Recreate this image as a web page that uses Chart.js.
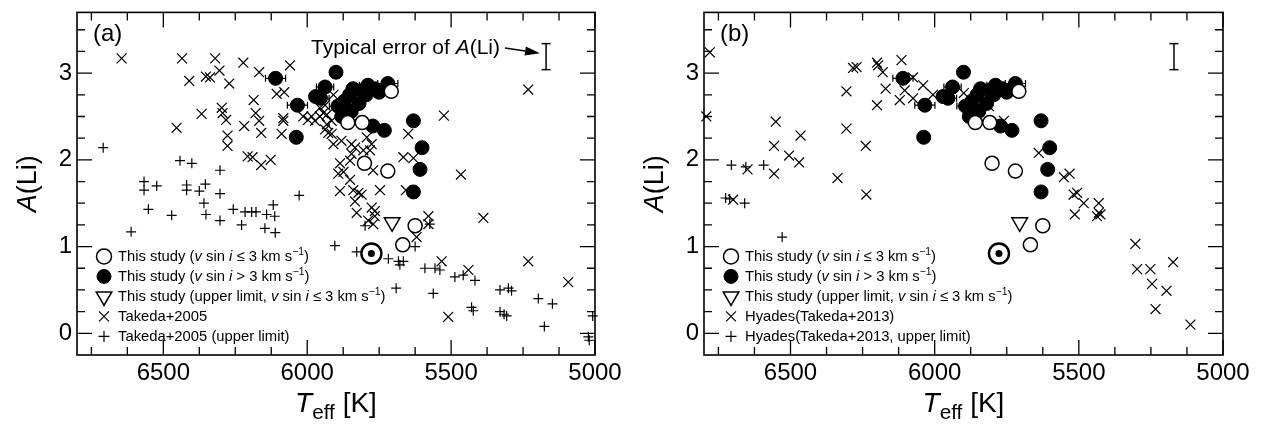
<!DOCTYPE html>
<html>
<head>
<meta charset="utf-8">
<title>A(Li) vs Teff</title>
<script src="https://cdn.jsdelivr.net/npm/chart.js@4.4.1/dist/chart.umd.min.js"></script>
<style>
  html, body { margin: 0; padding: 0; background: #fff; }
  .row { display: flex; width: 1264px; height: 425px; }
  .panel { width: 632px; height: 425px; }
  canvas { display: block; }
</style>
</head>
<body>
<div class="row">
  <div class="panel"><canvas id="panelA" width="632" height="425"></canvas></div>
  <div class="panel"><canvas id="panelB" width="632" height="425"></canvas></div>
</div>
<script>
// ---- axes ----
const xTicks = [6500, 6000, 5500, 5000];
const xMinor = [6750, 6625, 6375, 6250, 6125, 5875, 5750, 5625, 5375, 5250, 5125];
const yTicks = [0, 1, 2, 3];
const yMinor = [0.25, 0.5, 0.75, 1.25, 1.5, 1.75, 2.25, 2.5, 2.75, 3.25, 3.5];

// ---- this study (same in both panels), [Teff, A(Li)] ----
const studyFilled = [
  [6110, 2.94], [6034, 2.63], [6038, 2.26], [5971, 2.73], [5954, 2.71], [5938, 2.84],
  [5900, 3.01], [5893, 2.62], [5880, 2.50], [5870, 2.68], [5853, 2.75], [5847, 2.56],
  [5841, 2.82], [5820, 2.65], [5810, 2.80], [5795, 2.75], [5789, 2.86], [5766, 2.82],
  [5750, 2.78], [5720, 2.88], [5772, 2.39], [5732, 2.34], [5631, 2.45], [5601, 2.14],
  [5608, 1.89], [5631, 1.63]
];
const studyFilledErrT = [35, 35, 0, 0, 30, 30, 0, 30, 0, 0, 0, 0, 0, 0, 0, 0, 30, 0, 0, 35, 0, 0, 0, 0, 0, 0];
const studyOpen = [[5708, 2.79], [5859, 2.43], [5809, 2.43], [5801, 1.96], [5720, 1.87], [5625, 1.24], [5668, 1.02]];
const studyUpper = [[5705, 1.28]];
const sun = [[5777, 0.92]];
const typicalError = [[5170, 3.04], [5170, 3.34]];

// ---- panel (a): Takeda+2005 ----
const takeda2005 = [
  [6645, 3.17], [6435, 3.17], [6410, 2.91], [6320, 3.17], [6352, 2.96], [6338, 2.95], [6305, 3.03],
  [6271, 2.88], [6222, 3.12], [6167, 3.01], [6060, 3.09], [6367, 2.53], [6454, 2.37], [6297, 2.60],
  [6294, 2.54], [6282, 2.46], [6277, 2.28], [6277, 2.16], [6219, 2.39], [6186, 2.69], [6179, 2.54],
  [6167, 2.45], [6160, 2.31], [6207, 2.04], [6190, 2.03], [6160, 1.94], [6127, 2.00], [6106, 2.76],
  [6080, 2.78], [6083, 2.48], [6083, 2.45], [6089, 2.30], [6014, 2.50], [5997, 2.46], [5985, 2.50],
  [5973, 2.45], [5956, 2.50], [5944, 2.54], [5932, 2.41], [5927, 2.31], [5956, 2.60], [5909, 2.75],
  [5938, 2.63], [5932, 2.52], [5915, 2.45], [5938, 2.35], [5915, 2.30], [5909, 2.18], [5881, 2.22],
  [5846, 2.18], [5834, 2.14], [5793, 2.26], [5776, 2.18], [5805, 2.11], [5782, 2.11], [5886, 1.96],
  [5892, 1.84], [5874, 1.86], [5851, 1.99], [5846, 2.07], [5771, 1.88], [5851, 1.77], [5840, 1.65],
  [5886, 1.64], [5822, 1.62], [5811, 1.60], [5834, 1.52], [5828, 1.39], [5776, 1.45], [5765, 1.41],
  [5765, 1.35], [5788, 1.30], [5771, 1.26], [5747, 1.65], [5666, 2.03], [5631, 2.02], [5649, 2.30],
  [5657, 1.65], [5579, 1.35], [5579, 1.26], [5620, 1.11], [5525, 2.51], [5466, 1.83], [5388, 1.33],
  [5232, 2.81], [5533, 0.83], [5440, 0.73], [5232, 0.83], [5510, 0.19], [5093, 0.59]
];
const takeda2005Upper = [
  [6709, 2.14], [6442, 1.99], [6401, 1.96], [6303, 1.88], [6567, 1.75], [6567, 1.65], [6523, 1.70],
  [6419, 1.71], [6419, 1.65], [6375, 1.64], [6354, 1.72], [6303, 1.61], [6028, 1.59], [6552, 1.43],
  [6471, 1.36], [6359, 1.50], [6352, 1.37], [6303, 1.30], [6257, 1.43], [6216, 1.40], [6193, 1.40],
  [6178, 1.40], [6141, 1.37], [6118, 1.48], [6113, 1.35], [6147, 1.21], [6111, 1.16], [6612, 1.17],
  [6228, 1.25], [5904, 1.01], [5828, 0.94], [5718, 0.86], [5683, 0.83], [5678, 0.79], [5666, 0.83],
  [5625, 1.00], [5799, 1.24], [5574, 1.26], [5591, 0.75], [5556, 0.75], [5539, 0.73], [5562, 0.46],
  [5487, 0.65], [5458, 0.67], [5417, 0.61], [5429, 0.30], [5423, 0.26], [5330, 0.50], [5301, 0.52],
  [5290, 0.49], [5330, 0.25], [5316, 0.22], [5307, 0.20], [5197, 0.40], [5148, 0.34], [5176, 0.08],
  [5008, 0.20], [5023, -0.04], [5020, -0.08], [5691, 0.52]
];

// ---- panel (b): Hyades, Takeda+2013 ----
const hyades = [
  [6780, 3.24], [6792, 2.50], [6551, 2.44], [6557, 2.16], [6505, 2.05], [6465, 2.28], [6470, 1.97],
  [6557, 1.84], [6649, 1.89], [6699, 1.54], [6337, 1.79], [6306, 2.79], [6306, 2.36], [6283, 3.06],
  [6271, 3.07], [6239, 2.16], [6237, 1.60], [6200, 3.12], [6196, 3.09], [6180, 3.01], [6170, 2.82],
  [6200, 2.63], [6115, 3.15], [6121, 2.69], [6075, 2.95], [6104, 2.80], [6075, 2.71], [6040, 2.86],
  [6006, 2.75], [5899, 2.77], [5812, 2.62], [5760, 2.45], [5639, 2.08], [5552, 1.80], [5532, 1.84],
  [5518, 1.60], [5506, 1.62], [5483, 1.50], [5514, 1.37], [5431, 1.50], [5431, 1.39], [5437, 1.35],
  [5425, 1.37], [5304, 1.03], [5298, 0.74], [5252, 0.74], [5173, 0.82], [5246, 0.57], [5196, 0.49],
  [5234, 0.28], [5113, 0.10]
];
const hyadesUpper = [[6705, 1.94], [6655, 1.92], [6593, 1.94], [6725, 1.56], [6711, 1.55], [6659, 1.50], [6529, 1.11]];

// ---- annotation anchors (data space) ----
const noteAnchor = [5987, 3.225];
const noteArrow = [[5313, 3.29], [5191, 3.23]];

const FONT = '"Liberation Sans", Arial, Helvetica, sans-serif';
Chart.defaults.font.family = FONT;
Chart.defaults.color = '#000';

const toXY = arr => arr.map(p => ({ x: p[0], y: p[1] }));

function markerSet(label, arr, style, extra) {
  return Object.assign({
    label: label,
    data: toXY(arr),
    showLine: false,
    clip: false,
    pointStyle: style.pointStyle,
    pointRadius: style.radius,
    pointRotation: style.rotation || 0,
    pointBackgroundColor: style.fill,
    backgroundColor: style.fill,
    pointBorderColor: '#000',
    borderColor: '#000',
    pointBorderWidth: style.lw,
    borderWidth: style.lw
  }, extra || {});
}

const styles = {
  open:   { pointStyle: 'circle', radius: 7, fill: '#fff', lw: 1.5 },
  filled: { pointStyle: 'circle', radius: 7, fill: '#000', lw: 1 },
  upper:  { pointStyle: 'triangle', radius: 9, rotation: 180, fill: '#fff', lw: 1.5 },
  cross:  { pointStyle: 'crossRot', radius: 7, fill: '#000', lw: 1.2 },
  plus:   { pointStyle: 'cross', radius: 5, fill: '#000', lw: 1.2 },
  sunRing:{ pointStyle: 'circle', radius: 10, fill: '#fff', lw: 2.4 },
  sunDot: { pointStyle: 'circle', radius: 3.5, fill: '#000', lw: 0 }
};

function datasetsFor(others, othersUpper) {
  // first entry is drawn on top
  return [
    markerSet('Sun dot', sun, styles.sunDot),
    markerSet('Sun', sun, styles.sunRing),
    markerSet('upper', studyUpper, styles.upper),
    markerSet('open', studyOpen, styles.open),
    markerSet('filled', studyFilled, styles.filled, { errT: studyFilledErrT }),
    {
      label: 'typical error', data: toXY(typicalError), showLine: true, clip: false,
      borderColor: '#000', borderWidth: 1.5, pointStyle: 'line', pointRadius: 4.5,
      pointBorderColor: '#000', pointBorderWidth: 1.5
    },
    markerSet('others', others, styles.cross),
    markerSet('others upper', othersUpper, styles.plus)
  ];
}

// ---- text helpers ----
function fontOf(size, italic) { return (italic ? 'italic ' : '') + size + 'px ' + FONT; }

function pieceOf(p, size) {
  if (typeof p === 'string') return { t: p, size: size, italic: false, dy: 0 };
  if (p.sup) return { t: p.t, size: size * 0.7, italic: false, dy: -size * 0.42 };
  if (p.sub) return { t: p.t, size: size * 0.74, italic: false, dy: size * 0.26 };
  return { t: p.t, size: size, italic: !!p.i, dy: 0 };
}

function drawRich(ctx, parts, x, y, size, align) {
  const pieces = parts.map(p => pieceOf(p, size));
  let w = 0;
  pieces.forEach(pc => { ctx.font = fontOf(pc.size, pc.italic); pc.w = ctx.measureText(pc.t).width; w += pc.w; });
  let cx = align === 'center' ? x - w / 2 : x;
  ctx.textAlign = 'left';
  ctx.textBaseline = 'alphabetic';
  pieces.forEach(pc => {
    ctx.font = fontOf(pc.size, pc.italic);
    ctx.fillText(pc.t, cx, y + pc.dy);
    cx += pc.w;
  });
}

function drawMarker(ctx, m, x, y) {
  ctx.save();
  ctx.fillStyle = m.fill;
  ctx.strokeStyle = '#000';
  ctx.lineWidth = m.lw;
  Chart.helpers.drawPoint(ctx, { pointStyle: m.pointStyle, radius: m.radius, rotation: m.rotation || 0, borderWidth: m.lw }, x, y);
  ctx.restore();
}

const vsini = (rel) => [{ t: 'v', i: 1 }, ' sin ', { t: 'i', i: 1 }, rel + ' 3 km s', { t: '\u22121', sup: 1 }, ')'];

const legendA = [
  { marker: Object.assign({}, styles.open, { radius: 7.5 }), parts: ['This study ('].concat(vsini(' \u2264')) },
  { marker: styles.filled, parts: ['This study ('].concat(vsini(' >')) },
  { marker: styles.upper, parts: ['This study (upper limit, '].concat(vsini(' \u2264')) },
  { marker: styles.cross, parts: ['Takeda+2005'] },
  { marker: Object.assign({}, styles.plus, { radius: 5.5 }), parts: ['Takeda+2005 (upper limit)'] }
];
const legendB = legendA.slice(0, 3).concat([
  { marker: styles.cross, parts: ['Hyades(Takeda+2013)'] },
  { marker: Object.assign({}, styles.plus, { radius: 5.5 }), parts: ['Hyades(Takeda+2013, upper limit)'] }
]);

// ---- plugins ----
const errorBarPlugin = {
  id: 'errT',
  beforeDatasetDraw(chart, args) {
    const ds = chart.data.datasets[args.index];
    if (!ds.errT) return;
    const ctx = chart.ctx, xs = chart.scales.x, ys = chart.scales.y;
    ctx.save();
    ctx.strokeStyle = '#000';
    ctx.lineWidth = 1.2;
    ctx.beginPath();
    ds.data.forEach((p, i) => {
      const e = ds.errT[i];
      if (!e) return;
      const x1 = xs.getPixelForValue(p.x - e), x2 = xs.getPixelForValue(p.x + e), y = ys.getPixelForValue(p.y);
      ctx.moveTo(x1, y); ctx.lineTo(x2, y);
      ctx.moveTo(x1, y - 3.5); ctx.lineTo(x1, y + 3.5);
      ctx.moveTo(x2, y - 3.5); ctx.lineTo(x2, y + 3.5);
    });
    ctx.stroke();
    ctx.restore();
  }
};

const framePlugin = {
  id: 'frame',
  afterDatasetsDraw(chart) {
    const ctx = chart.ctx, a = chart.chartArea, xs = chart.scales.x, ys = chart.scales.y;
    ctx.save();
    ctx.strokeStyle = '#000';
    ctx.lineWidth = 1.3;
    ctx.beginPath();
    const xt = (vals, len) => vals.forEach(v => {
      const px = xs.getPixelForValue(v);
      ctx.moveTo(px, a.bottom); ctx.lineTo(px, a.bottom - len);
      ctx.moveTo(px, a.top); ctx.lineTo(px, a.top + len);
    });
    const yt = (vals, len) => vals.forEach(v => {
      const py = ys.getPixelForValue(v);
      ctx.moveTo(a.left, py); ctx.lineTo(a.left + len, py);
      ctx.moveTo(a.right, py); ctx.lineTo(a.right - len, py);
    });
    xt(xTicks, 15); xt(xMinor, 8);
    yt(yTicks, 15); yt(yMinor, 8);
    ctx.stroke();
    ctx.lineWidth = 1.6;
    ctx.strokeRect(a.left, a.top, a.right - a.left, a.bottom - a.top);
    ctx.restore();
  }
};

function decorPlugin(cfg) {
  return {
    id: 'decor',
    afterDraw(chart) {
      const ctx = chart.ctx, a = chart.chartArea, xs = chart.scales.x, ys = chart.scales.y;
      ctx.save();
      ctx.fillStyle = '#000';
      // panel tag
      drawRich(ctx, [cfg.tag], a.left + 16, a.top + 29, 24, 'left');
      // axis titles
      drawRich(ctx, [{ t: 'T', i: 1 }, { t: 'eff', sub: 1 }, ' [K]'], (a.left + a.right) / 2, 412, 28, 'center');
      ctx.save();
      ctx.translate(cfg.yTitleX, (a.top + a.bottom) / 2);
      ctx.rotate(-Math.PI / 2);
      drawRich(ctx, [{ t: 'A', i: 1 }, '(Li)'], 0, 0, 27, 'center');
      ctx.restore();
      // legend
      cfg.legend.forEach((e, i) => {
        const cy = a.top + 244 + i * 20;
        drawMarker(ctx, e.marker, a.left + 27, cy);
        ctx.fillStyle = '#000';
        drawRich(ctx, e.parts, a.left + 41, cy + 5, 14.8, 'left');
      });
      // typical-error note
      if (cfg.note) {
        drawRich(ctx, ['Typical error of ', { t: 'A', i: 1 }, '(Li)'],
          xs.getPixelForValue(noteAnchor[0]), ys.getPixelForValue(noteAnchor[1]), 21, 'left');
        const x1 = xs.getPixelForValue(noteArrow[0][0]), y1 = ys.getPixelForValue(noteArrow[0][1]);
        const x2 = xs.getPixelForValue(noteArrow[1][0]), y2 = ys.getPixelForValue(noteArrow[1][1]);
        const ang = Math.atan2(y2 - y1, x2 - x1), L = 15, H = 4.5;
        const bx = x2 - L * Math.cos(ang), by = y2 - L * Math.sin(ang);
        ctx.strokeStyle = '#000';
        ctx.lineWidth = 1.4;
        ctx.beginPath(); ctx.moveTo(x1, y1); ctx.lineTo(bx, by); ctx.stroke();
        ctx.beginPath();
        ctx.moveTo(x2, y2);
        ctx.lineTo(bx + H * Math.sin(ang), by - H * Math.cos(ang));
        ctx.lineTo(bx - H * Math.sin(ang), by + H * Math.cos(ang));
        ctx.closePath(); ctx.fill();
      }
      ctx.restore();
    }
  };
}

function buildPanel(canvasId, cfg) {
  return new Chart(document.getElementById(canvasId), {
    type: 'scatter',
    data: { datasets: cfg.datasets },
    options: {
      responsive: false,
      animation: false,
      events: [],
      layout: { padding: cfg.padding },
      plugins: { legend: { display: false }, tooltip: { enabled: false } },
      scales: {
        x: {
          type: 'linear', reverse: true, min: 5000, max: 6800,
          grid: { display: false, drawTicks: false }, border: { display: false },
          ticks: { font: { size: 24 }, color: '#000', padding: 4, maxRotation: 0, autoSkip: false, callback: v => String(v) },
          afterBuildTicks: s => { s.ticks = xTicks.map(v => ({ value: v })); },
          afterFit: s => { s.height = 70; s.paddingLeft = 0; s.paddingRight = 0; }
        },
        y: {
          type: 'linear', min: -0.25, max: 3.7,
          grid: { display: false, drawTicks: false }, border: { display: false },
          ticks: { font: { size: 24 }, color: '#000', padding: 5, callback: v => String(v) },
          afterBuildTicks: s => { s.ticks = yTicks.map(v => ({ value: v })); },
          afterFit: s => { s.width = cfg.yAxisWidth; s.paddingTop = 0; s.paddingBottom = 0; }
        }
      }
    },
    plugins: [errorBarPlugin, framePlugin, decorPlugin(cfg)]
  });
}

buildPanel('panelA', {
  datasets: datasetsFor(takeda2005, takeda2005Upper),
  padding: { left: 0, right: 37, top: 6, bottom: 0 },
  yAxisWidth: 77,
  yTitleX: 36,
  tag: '(a)',
  legend: legendA,
  note: true
});

buildPanel('panelB', {
  datasets: datasetsFor(hyades, hyadesUpper),
  padding: { left: 0, right: 41, top: 6, bottom: 0 },
  yAxisWidth: 72,
  yTitleX: 31,
  tag: '(b)',
  legend: legendB,
  note: false
});
</script>
</body>
</html>
